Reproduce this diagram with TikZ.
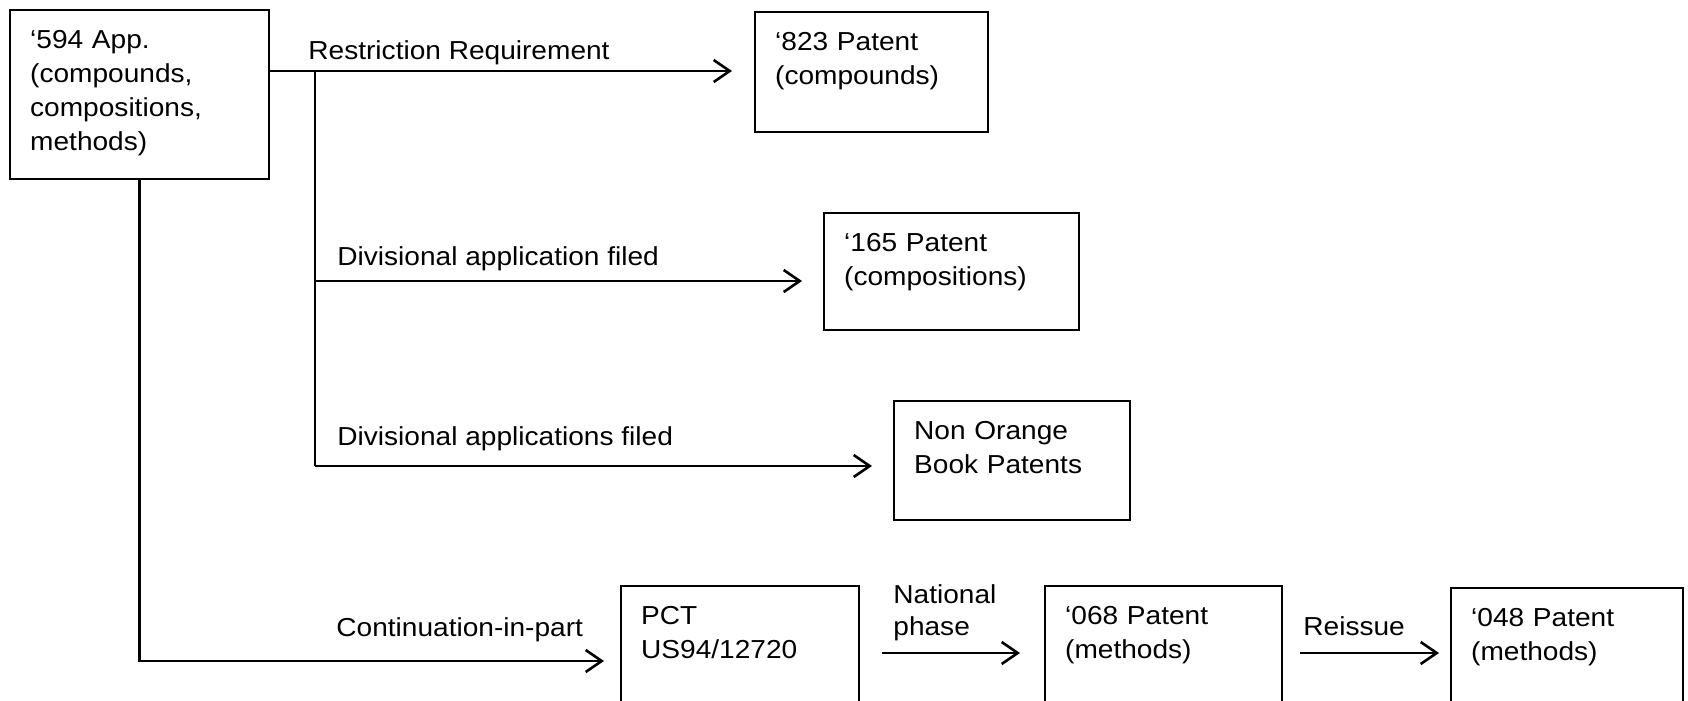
\documentclass[tikz,border=0pt]{standalone}
\usepackage{fontspec}
\setmainfont{Liberation Sans}[FakeStretch=1.08]
\usetikzlibrary{arrows.meta,positioning,calc}

\begin{document}
\begin{tikzpicture}[x=0.5pt,y=-0.5pt,
		box/.style={draw, line width=1.2pt, anchor=north west, align=left, inner xsep=10pt, inner ysep=0pt, text height=19pt, font=\fontsize{13}{17}\selectfont},
		lbl/.style={anchor=base west, inner sep=0pt, font=\fontsize{13}{15}\selectfont},
		line/.style={line width=1.3pt},
		arr/.style={line width=1.3pt, -{Straight Barb[length=8pt,width=11pt]}}]
		\useasboundingbox (0,0) rectangle (1688,701);
		\clip (0,0) rectangle (1688,701);
		% boxes
		\node [box, text width=109.5pt, text depth=65.5pt] (app) at (9,9) {‘594 App.\\(compounds,\\compositions,\\methods)};
		\node [box, text width=96.5pt, text depth=41pt] (p823) at (754,11) {‘823 Patent\\(compounds)};
		\node [box, text width=107.5pt, text depth=39.5pt] (p165) at (823,212) {‘165 Patent\\(compositions)};
		\node [box, text width=98pt, text depth=40.5pt] (nob) at (893,400) {Non Orange\\Book Patents};
		\node [box, text width=99pt, text depth=80pt] (pct) at (620,585) {PCT\\US94/12720};
		\node [box, text width=98.5pt, text depth=80pt] (p068) at (1044,585) {‘068 Patent\\(methods)};
		\node [box, text width=96pt, text depth=80pt] (p048) at (1450,587) {‘048 Patent\\(methods)};
		% junctions
		\coordinate (split) at (315,71);
		\coordinate (div1) at (315,281);
		\coordinate (div2) at (315,466);
		\coordinate (row) at (138,661);
		\coordinate (natl) at (0,653);
		% connectors
		\draw [arr, shorten >=11pt] (app.east |- split) -- (p823.west |- split);
		\draw [line] (split) -- (div2);
		\draw [arr, shorten >=10.5pt] (div1) -- (p165.west |- div1);
		\draw [arr, shorten >=10.5pt] (div2) -- (nob.west |- div2);
		\draw [arr, shorten >=8pt] (app.south) |- (pct.west |- row);
		\draw [arr, shorten <=11pt, shorten >=12pt] (pct.east |- natl) -- (p068.west |- natl);
		\draw [arr, shorten <=8.5pt, shorten >=5.5pt] (p068.east |- natl) -- (p048.west |- natl);
		% labels
		\node [lbl] (restr) at (308,60) {Restriction Requirement};
		\node [lbl] (divone) at (337,265) {Divisional application filed};
		\node [lbl] (divtwo) at (337,445) {Divisional applications filed};
		\node [lbl] (cip) at (336,636) {Continuation-in-part};
		\node [lbl, align=left, font=\fontsize{13}{16}\selectfont] (natlbl) at (893,635) {National\\phase};
		\node [lbl] (reis) at (1303,635) {Reissue};
\end{tikzpicture}
\end{document}
